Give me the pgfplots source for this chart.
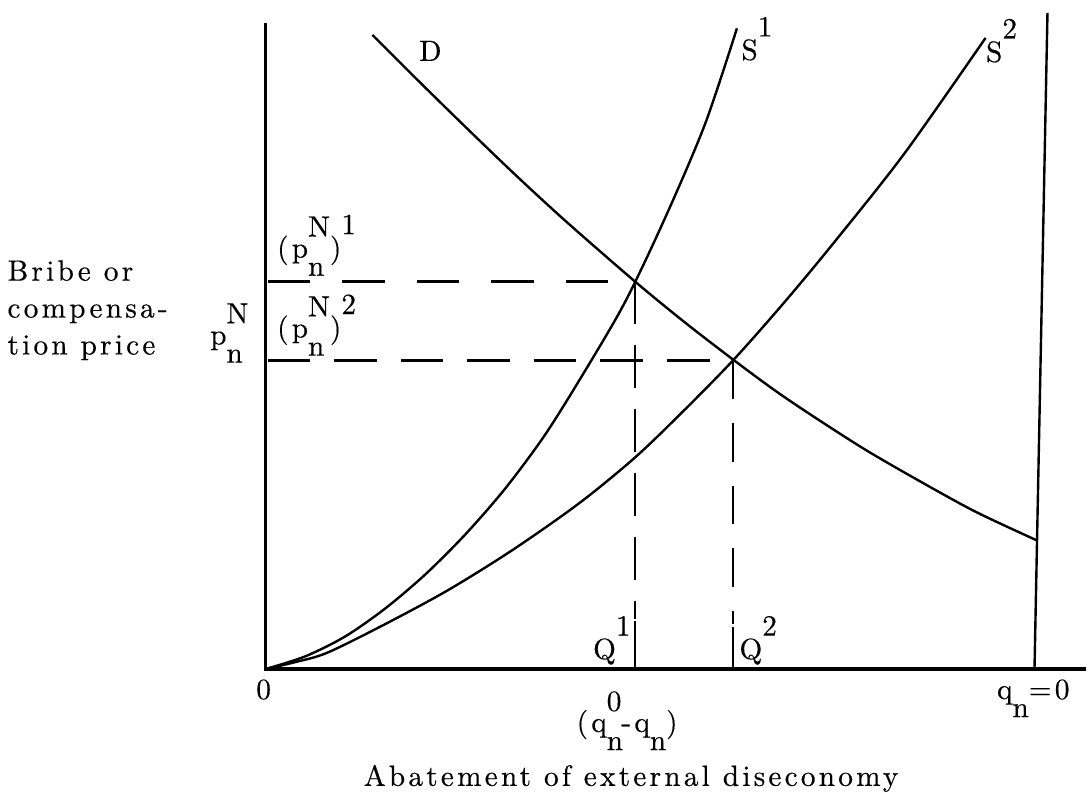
\documentclass[border=0pt]{standalone}
\usepackage{fontspec}
\newfontfamily\tw{Latin Modern Roman}[LetterSpace=11,FakeBold=0.4]
\usepackage{pgfplots}
\pgfplotsset{compat=1.18}
\newcommand{\supsub}[2]{\rlap{\raisebox{-0.62em}{#2}}\raisebox{0.72em}{#1}}
\newcommand{\up}[1]{\raisebox{0.8em}{#1}}
\begin{document}
\begin{tikzpicture}[every node/.style={font=\fontsize{11}{13}\selectfont\tw, inner sep=0pt}]
\begin{axis}[width=408pt, height=298.125pt, scale only axis,
  xmin=-266, xmax=822, ymin=-125, ymax=670, axis lines=none, clip=false]
\path (axis cs:-266,-125) rectangle (axis cs:822,670);
% axes
\addplot[black, line width=1.2pt] coordinates {(0,647) (0,0) (822,0)};
\addplot[black, line width=0.9pt] coordinates {(770,0) (783,657)};
% demand
\addplot[black, line width=0.9pt, smooth] coordinates {(107,635) (150,592) (200,543) (250,495) (300,449) (370,388) (420,347) (468,310) (510,279) (550,252) (600,220) (650,191) (710,158) (772,129)};
% supply 1
\addplot[black, line width=0.9pt, smooth] coordinates {(0,0) (40,12.8) (80,32.8) (120,60.8) (160,94.8) (200,134.8) (240,180.8) (280,234.8) (320,298.8) (360,367.6) (400,451.6) (440,545.6) (472,641.6)};
% supply 2
\addplot[black, line width=0.9pt, smooth] coordinates {(0,0) (30,7) (61,16) (114,42) (181,78) (247,119) (314,166) (369,211) (414,254) (468,309) (521,369) (574,433) (641,518) (721,632)};
% dashed
\addplot[black, line width=0.9pt, dash pattern=on 16pt off 12pt] coordinates {(2,388) (370,388)};
\addplot[black, line width=0.9pt, dash pattern=on 16pt off 9pt] coordinates {(2,309) (468,309)};
\addplot[black, line width=0.9pt, dash pattern=on 16pt off 8pt] coordinates {(370,388) (370,50)};
\addplot[black, line width=0.9pt, dash pattern=on 14.5pt off 9pt] coordinates {(468,309) (468,45)};
\addplot[black, line width=0.9pt] coordinates {(370,0) (370,48)};
\addplot[black, line width=0.9pt] coordinates {(468,0) (468,42)};
% labels
\node[anchor=base] at (axis cs:165,609) {D};
\node[anchor=base west] at (axis cs:476,610) {S\up{1}};
\node[anchor=base west] at (axis cs:721,608) {S\up{2}};
\node[anchor=base] at (axis cs:-2,-30) {0};
\node[anchor=base west] at (axis cs:732,-30) {q\raisebox{-0.62em}{n}=0};
\node[anchor=base east] at (axis cs:366,10) {Q\up{1}};
\node[anchor=base west] at (axis cs:474,10) {Q\up{2}};
\node[anchor=base west] at (axis cs:311,-63) {(q\supsub{0}{n}-q\raisebox{-0.62em}{n})};
\node[anchor=base] at (axis cs:366,-117) {Abatement of external diseconomy};
\node[anchor=base west] at (axis cs:11,412) {(p\supsub{N}{n})\up{1}};
\node[anchor=base west] at (axis cs:11,332) {(p\supsub{N}{n})\up{2}};
\node[anchor=base west] at (axis cs:-56,325) {p\supsub{N}{n}};
\node[anchor=base west] at (axis cs:-259,389) {Bribe or};
\node[anchor=base west] at (axis cs:-259,352) {compensa-};
\node[anchor=base west] at (axis cs:-259,315) {tion price};
\end{axis}
\end{tikzpicture}
\end{document}
